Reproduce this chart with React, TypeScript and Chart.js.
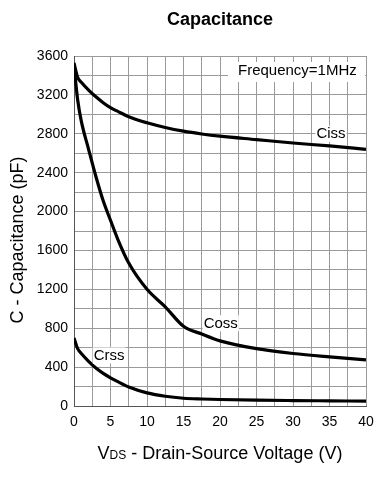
import React, { useEffect, useRef } from "react";
import { Chart, registerables } from "chart.js";

Chart.register(...registerables);

const vds = [0, 0.5, 1, 2, 3, 4, 5, 6, 7.5, 10, 12.5, 15, 17.5, 20, 25, 30, 35, 40];
const ciss = [3530, 3380, 3330, 3250, 3180, 3120, 3068, 3030, 2975, 2913, 2865, 2827, 2798, 2775, 2740, 2705, 2675, 2640];
const coss = [3500, 3150, 2930, 2640, 2360, 2110, 1910, 1715, 1470, 1200, 1020, 820, 740, 670, 590, 540, 505, 475];
const crss = [700, 590, 540, 460, 390, 335, 290, 250, 195, 135, 100, 80, 72, 67, 60, 56, 53, 50];

const seriesLabels = ["Ciss", "Coss", "Crss"];
const labelPos = [
  { x: 35.2, y: 2800 },
  { x: 20.1, y: 850 },
  { x: 4.8, y: 520 },
];
const chartTitle = "Capacitance";
const freqNote = "Frequency=1MHz";
const yTitle = "C - Capacitance (pF)";

const FONT = '"Liberation Sans", Arial, sans-serif';

const toXY = (ys: number[]) => ys.map((y, i) => ({ x: vds[i], y }));

const decorPlugin = {
  id: "decor",
  beforeDatasetsDraw(chart: any) {
    const { ctx, chartArea } = chart;
    ctx.save();
    ctx.fillStyle = "#fff";
    ctx.fillRect(228, chartArea.top + 6, chartArea.right - 229, 20);
    ctx.restore();
  },
  afterDatasetsDraw(chart: any) {
    const { ctx, scales, chartArea } = chart;
    const xs = scales.x;
    const ys = scales.y;
    ctx.save();
    ctx.fillStyle = "#000";
    ctx.textBaseline = "middle";
    ctx.textAlign = "center";
    ctx.font = `bold 18px ${FONT}`;
    ctx.fillText(chartTitle, (chartArea.left + chartArea.right) / 2, 20);

    ctx.font = `15px ${FONT}`;
    ctx.fillText(freqNote, xs.getPixelForValue(30.6), ys.getPixelForValue(3452));
    seriesLabels.forEach((t, i) => {
      const px = xs.getPixelForValue(labelPos[i].x);
      const py = ys.getPixelForValue(labelPos[i].y);
      const w = ctx.measureText(t).width;
      ctx.fillStyle = "#fff";
      ctx.fillRect(px - w / 2 - 1, py - 8, w + 2, 16);
      ctx.fillStyle = "#000";
      ctx.fillText(t, px, py);
    });

    ctx.save();
    ctx.translate(18, 240);
    ctx.rotate(-Math.PI / 2);
    ctx.font = `18px ${FONT}`;
    ctx.fillText(yTitle, 0, 0);
    ctx.restore();

    const big = `18px ${FONT}`;
    const small = `12px ${FONT}`;
    const p1 = "V";
    const p2 = "DS";
    const p3 = " - Drain-Source Voltage (V)";
    ctx.font = big;
    const w1 = ctx.measureText(p1).width;
    const w3 = ctx.measureText(p3).width;
    ctx.font = small;
    const w2 = ctx.measureText(p2).width;
    const total = w1 + w2 + w3;
    let x0 = (chartArea.left + chartArea.right) / 2 - total / 2;
    const yb = 459;
    ctx.textAlign = "left";
    ctx.textBaseline = "alphabetic";
    ctx.font = big;
    ctx.fillText(p1, x0, yb);
    x0 += w1;
    ctx.font = small;
    ctx.fillText(p2, x0, yb);
    x0 += w2;
    ctx.font = big;
    ctx.fillText(p3, x0, yb);
    ctx.restore();
  },
};

export default function App() {
  const ref = useRef<HTMLCanvasElement | null>(null);
  useEffect(() => {
    document.body.style.margin = "0";
    const lineStyle = {
      borderColor: "#000",
      borderWidth: 3.2,
      pointRadius: 0,
      fill: false,
      cubicInterpolationMode: "monotone" as const,
    };
    const chart = new Chart(ref.current as HTMLCanvasElement, {
      type: "line",
      data: {
        datasets: [
          { label: seriesLabels[0], data: toXY(ciss), ...lineStyle },
          { label: seriesLabels[1], data: toXY(coss), ...lineStyle },
          { label: seriesLabels[2], data: toXY(crss), ...lineStyle },
        ],
      },
      options: {
        animation: false,
        responsive: false,
        devicePixelRatio: 1,
        layout: { padding: { top: 56, right: 21, left: 0, bottom: 0 } },
        plugins: { legend: { display: false }, tooltip: { enabled: false }, title: { display: false } },
        scales: {
          x: {
            type: "linear",
            min: 0,
            max: 40,
            afterFit: (s: any) => {
              s.height = 74;
            },
            ticks: {
              stepSize: 2.5,
              autoSkip: false,
              maxRotation: 0,
              padding: 8,
              color: "#000",
              font: { family: FONT, size: 14 },
              callback: (v: any) => (Number(v) % 5 === 0 ? String(v) : ""),
            },
            grid: { color: "#9a9a9a", lineWidth: 1, drawTicks: false },
            border: { color: "#555", width: 1 },
          },
          y: {
            type: "linear",
            min: 0,
            max: 3600,
            afterFit: (s: any) => {
              s.width = 74;
            },
            ticks: {
              stepSize: 200,
              autoSkip: false,
              padding: 6,
              color: "#000",
              font: { family: FONT, size: 14 },
              callback: (v: any) => (Number(v) % 400 === 0 ? String(v) : ""),
            },
            grid: { color: "#9a9a9a", lineWidth: 1, drawTicks: false },
            border: { color: "#555", width: 1 },
          },
        },
      },
      plugins: [decorPlugin],
    });
    return () => chart.destroy();
  }, []);
  return (
    <div style={{ position: "absolute", left: 0, top: 0, width: 387, height: 480, background: "#fff" }}>
      <canvas ref={ref} width={387} height={480} />
    </div>
  );
}
